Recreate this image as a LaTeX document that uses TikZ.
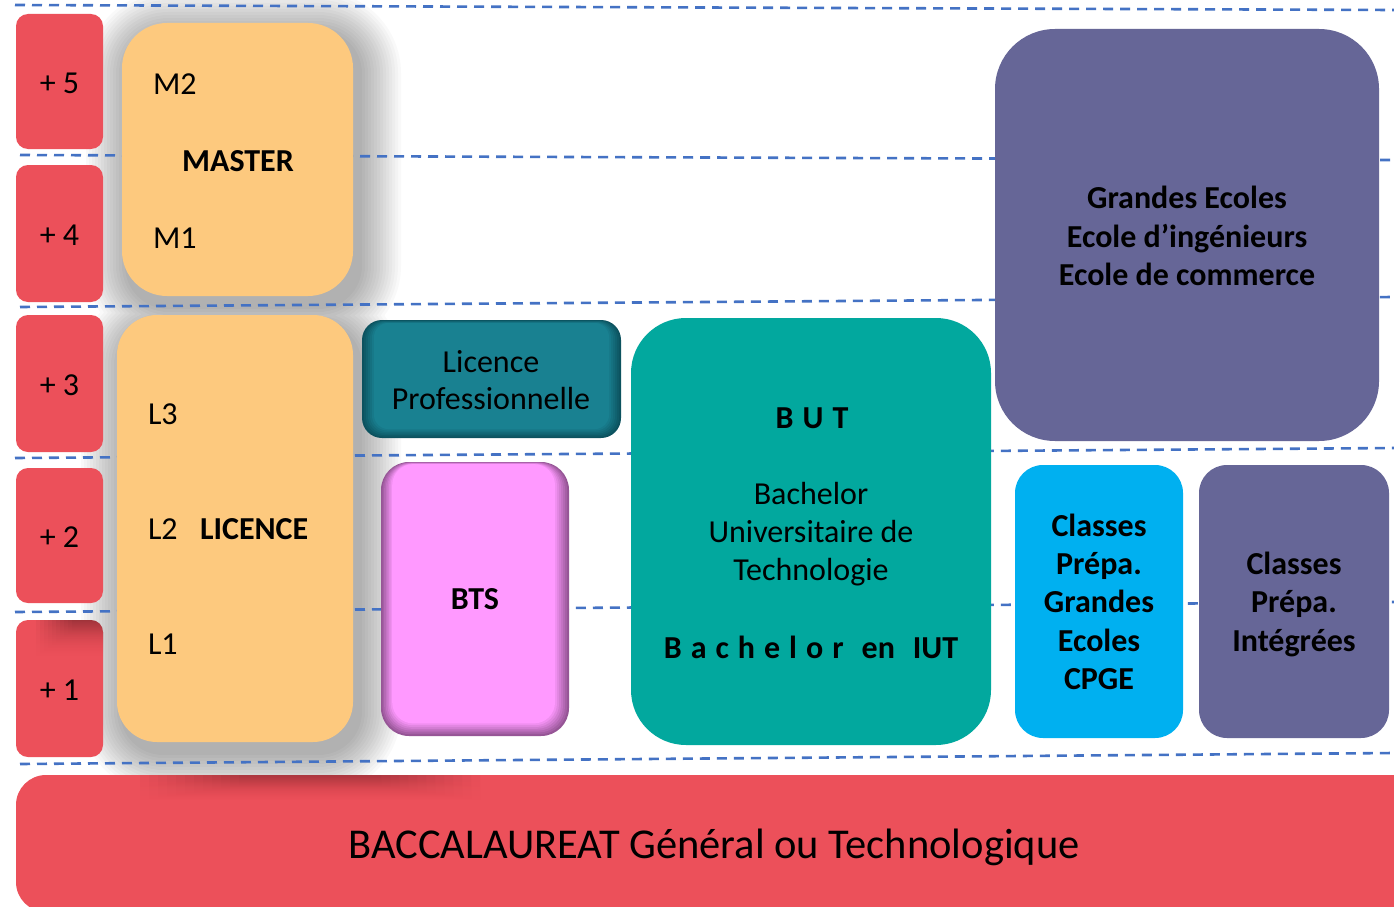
\documentclass[tikz,border=0pt]{standalone}
\usepackage{fontspec}
\setmainfont{Carlito}
\usetikzlibrary{calc}
\definecolor{redc}{RGB}{236,80,90}
\definecolor{orangec}{RGB}{253,201,126}
\definecolor{lpc}{RGB}{25,129,145}
\definecolor{lpdark}{RGB}{12,82,95}
\definecolor{btsc}{RGB}{255,153,255}
\definecolor{btsdark}{RGB}{150,85,150}
\definecolor{butc}{RGB}{2,168,158}
\definecolor{gec}{RGB}{102,102,151}
\definecolor{cpgec}{RGB}{0,176,240}
\definecolor{dashc}{RGB}{68,114,196}
\newcommand{\lsp}{\hspace{9pt}}
\begin{document}
\begin{tikzpicture}[x=1pt,y=-1pt,
  box/.style={inner sep=0pt, outer sep=0pt, anchor=north west, draw=none},
  yearbox/.style={box, fill=redc, rounded corners=12pt, minimum width=87pt, font=\fontsize{32}{38}\selectfont, text height=24pt, text depth=0pt},
  txt/.style={inner sep=0pt, outer sep=0pt, font=\fontsize{32}{38}\selectfont},
  btxt/.style={txt, font=\fontsize{32}{38}\selectfont\bfseries},
  dline/.style={draw=dashc, line width=2.6pt, dash pattern=on 10pt off 7pt}
]
\useasboundingbox (0,0) rectangle (1394,907);
\fill[white] (0,0) rectangle (1394,907);

% soft shadow behind MASTER and LICENCE
\foreach \e in {3,6,...,42}{
  \pgfmathsetmacro\rr{40+\e}
  \fill[black, opacity=0.025, rounded corners=\rr pt]
    ({122+6-\e},{23+10-\e}) rectangle ({353+6+\e},{296+10+\e})
    ({117+6-\e},{315+10-\e}) rectangle ({353+6+\e},{742+10+\e});
}

% dashed level lines
\coordinate (d1a) at (15,5);    \coordinate (d1b) at (1394,10);
\coordinate (d2a) at (20,155);  \coordinate (d2b) at (1394,160);
\coordinate (d3a) at (20,307);  \coordinate (d3b) at (1394,297);
\coordinate (d4a) at (15,458);  \coordinate (d4b) at (1394,448);
\coordinate (d5a) at (15,612);  \coordinate (d5b) at (1394,602);
\coordinate (d6a) at (20,764);  \coordinate (d6b) at (1394,753);
\foreach \n in {1,...,6}{ \draw[dline] (d\n a) -- (d\n b); }

% year boxes
\node[yearbox, minimum height=135pt] (y5) at (16,14)  {+ 5};
\node[yearbox, minimum height=137pt] (y4) at (16,165) {+ 4};
\node[yearbox, minimum height=137pt] (y3) at (16,315) {+ 3};
\node[yearbox, minimum height=135pt] (y2) at (16,468) {+ 2};
\node[yearbox, minimum height=137pt] (y1) at (16,620) {};
\begin{scope}
  \clip[rounded corners=12pt] (y1.north west) rectangle (y1.south east);
  \foreach \k in {0,...,9}{
    \shade[top color=black, bottom color=redc, opacity=0.035]
      ({36+4*\k},620) rectangle (103,{656-2.5*\k});
  }
\end{scope}
\node[yearbox, fill=none, minimum height=137pt] (y1t) at (16,620) {+ 1};

% MASTER
\node[box, fill=orangec, rounded corners=45pt, minimum width=231pt, minimum height=273pt] (master) at (122,23) {};
\node[txt, anchor=base west] (m2) at (153,94) {M2};
\node[btxt, anchor=base] (mastert) at (238,171) {MASTER};
\node[txt, anchor=base west] (m1) at (153,248) {M1};

% LICENCE
\node[box, fill=orangec, rounded corners=40pt, minimum width=236pt, minimum height=427pt] (licence) at (117,315) {};
\node[txt, anchor=base west] (l3) at (148,424) {L3};
\node[txt, anchor=base west] (l2) at (148,539) {L2};
\node[btxt, anchor=base west] (licencet) at (200,539) {LICENCE};
\node[txt, anchor=base west] (l1) at (148,654) {L1};

% Licence Professionnelle (bevelled)
\node[box, fill=lpdark, rounded corners=20pt, minimum width=259pt, minimum height=118pt] (lp) at (362,320) {};
\foreach \i in {1,...,6}{
  \pgfmathsetmacro\cc{\i*100/6}
  \pgfmathsetmacro\rr{20-\i}
  \fill[lpc!\cc!lpdark, rounded corners=\rr pt]
    ($(lp.north west)+({2*\i},{0.5*\i})$) rectangle ($(lp.south east)+({-2*\i},{-1.5*\i})$);
}
\node[txt, anchor=base] (lpt1) at (491,372) {Licence};
\node[txt, anchor=base] (lpt2) at (491,409) {Professionnelle};

% BTS (bevelled)
\node[box, fill=btsdark, rounded corners=28pt, minimum width=188pt, minimum height=274pt] (bts) at (381,462) {};
\foreach \i in {1,...,7}{
  \pgfmathsetmacro\cc{\i*100/7}
  \pgfmathsetmacro\rr{28-\i}
  \fill[btsc!\cc!btsdark, rounded corners=\rr pt]
    ($(bts.north west)+({1.6*\i},{0.3*\i})$) rectangle ($(bts.south east)+({-2*\i},{-1.8*\i})$);
}
\node[btxt, anchor=base] (btst) at (475,609) {BTS};

% BUT
\node[box, fill=butc, rounded corners=55pt, minimum width=360pt, minimum height=427pt] (but) at (631,318) {};
\node[btxt, anchor=base] (butt) at (812,428) {B\lsp U\lsp T};
\node[txt, anchor=base] (butl1) at (811,504) {Bachelor};
\node[txt, anchor=base] (butl2) at (811,542) {Universitaire de};
\node[txt, anchor=base] (butl3) at (811,580) {Technologie};
\node[btxt, anchor=base] (butl4) at (811,658) {B\lsp a\lsp c\lsp h\lsp e\lsp l\lsp o\lsp r\hspace{18pt}en\hspace{18pt}IUT};

% Grandes Ecoles
\node[box, fill=gec, rounded corners=60pt, minimum width=384pt, minimum height=412pt] (ge) at (995,29) {};
\node[btxt, anchor=base] (get1) at (1187,208) {Grandes Ecoles};
\node[btxt, anchor=base] (get2) at (1187,247) {Ecole d’ingénieurs};
\node[btxt, anchor=base] (get3) at (1187,285) {Ecole de commerce};

% CPGE
\node[box, fill=cpgec, rounded corners=28pt, minimum width=168pt, minimum height=273pt] (cpge) at (1015,465) {};
\node[btxt, anchor=base] (cp1) at (1099,536) {Classes};
\node[btxt, anchor=base] (cp2) at (1099,574) {Prépa.};
\node[btxt, anchor=base] (cp3) at (1099,612) {Grandes};
\node[btxt, anchor=base] (cp4) at (1099,651) {Ecoles};
\node[btxt, anchor=base] (cp5) at (1099,689) {CPGE};

% Classes Prépa Intégrées
\node[box, fill=gec, rounded corners=28pt, minimum width=190pt, minimum height=273pt] (cpi) at (1199,465) {};
\node[btxt, anchor=base] (ci1) at (1294,574) {Classes};
\node[btxt, anchor=base] (ci2) at (1294,612) {Prépa.};
\node[btxt, anchor=base] (ci3) at (1294,651) {Intégrées};

% BAC
\node[box, fill=redc, rounded corners=30pt, minimum width=1410pt, minimum height=137pt] (bac) at (16,775) {};
\foreach \k in {0,...,11}{
  \shade[top color=black, bottom color=redc, opacity=0.025]
    ({140+9*\k},775) rectangle ({480-9*\k},{800-1.2*\k});
}
\node[txt, anchor=base, font=\fontsize{42.5}{50}\selectfont] (bact) at (714,858) {BACCALAUREAT Général ou Technologique};
\end{tikzpicture}
\end{document}
